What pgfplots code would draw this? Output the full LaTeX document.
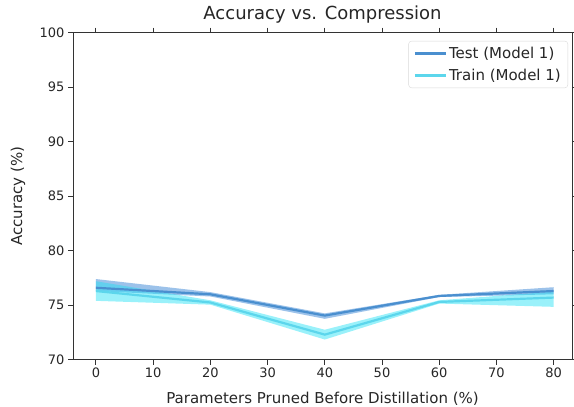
\documentclass[border=0pt]{standalone}
\usepackage{pgfplots}
\pgfplotsset{compat=1.18}
\usepgfplotslibrary{fillbetween}
\usepackage{fontspec}
\setmainfont{DejaVu Sans}
\definecolor{testc}{HTML}{4A8FCF}
\definecolor{testb}{HTML}{4A90D8}
\definecolor{trainc}{HTML}{5CD6EC}
\definecolor{trainb}{HTML}{1FE0F5}
\definecolor{spine}{HTML}{333333}
\pgfplotstableread{
x mean upper lower
0 76.6 77.4 76.3
20 76.0 76.2 75.8
40 74.05 74.25 73.75
60 75.85 75.95 75.75
80 76.3 76.65 76.0
}\testdata
\pgfplotstableread{
x mean upper lower
0 76.3 77.2 75.4
20 75.25 75.45 75.05
40 72.3 72.75 71.85
60 75.3 75.45 75.15
80 75.7 76.25 74.85
}\traindata
\begin{document}
\begin{tikzpicture}
\begin{axis}[
  scale only axis,
  width=499bp, height=327bp,
  xmin=-4, xmax=83.2, ymin=70, ymax=100,
  xtick={0,10,...,80}, ytick={70,75,...,100},
  tick align=outside, major tick length=5bp,
  axis line style={spine, line width=1bp},
  tick style={spine, line width=1bp},
  tick label style={font=\fontsize{13bp}{15bp}\selectfont, text=black!85},
  /pgf/number format/assume math mode=true,
  title={Accuracy vs. Compression},
  title style={font=\fontsize{18bp}{21bp}\selectfont, text=black!85, at={(axis description cs:0.5,1.022)}, anchor=base},
  xlabel={Parameters Pruned Before Distillation (\%)},
  ylabel={Accuracy (\%)},
  label style={font=\fontsize{15bp}{18bp}\selectfont, text=black!85},
  xlabel style={at={(axis description cs:0.5,-0.118)}, anchor=center},
  ylabel style={at={(axis description cs:-0.110,0.5)}, anchor=center},
  legend style={at={(axis description cs:0.992,0.975)}, anchor=north east, draw=gray!30, rounded corners=3bp,
    font=\fontsize{15bp}{18bp}\selectfont, text=black!85, row sep=5bp, inner xsep=5bp, inner ysep=4bp},
  legend cell align=left,
  legend image code/.code={\draw[#1, line width=2.4bp] (0bp,0bp) -- (31bp,0bp);},
]
\addplot[name path=tu, draw=none, forget plot] table[x=x, y=upper] {\testdata};
\addplot[name path=tl, draw=none, forget plot] table[x=x, y=lower] {\testdata};
\addplot[testb, fill opacity=0.55, forget plot] fill between[of=tu and tl];
\addplot[name path=ru, draw=none, forget plot] table[x=x, y=upper] {\traindata};
\addplot[name path=rl, draw=none, forget plot] table[x=x, y=lower] {\traindata};
\addplot[trainb, fill opacity=0.45, forget plot] fill between[of=ru and rl];
\addplot[testc, line width=2.2bp] table[x=x, y=mean] {\testdata};
\addlegendentry{Test (Model 1)}
\addplot[trainc, line width=2.2bp] table[x=x, y=mean] {\traindata};
\addlegendentry{Train (Model 1)}
\end{axis}
\pgfresetboundingbox
\path ([shift={(-73bp,-47bp)}]current axis.south west) rectangle ([shift={(2bp,32.7bp)}]current axis.north east);
\end{tikzpicture}
\end{document}
